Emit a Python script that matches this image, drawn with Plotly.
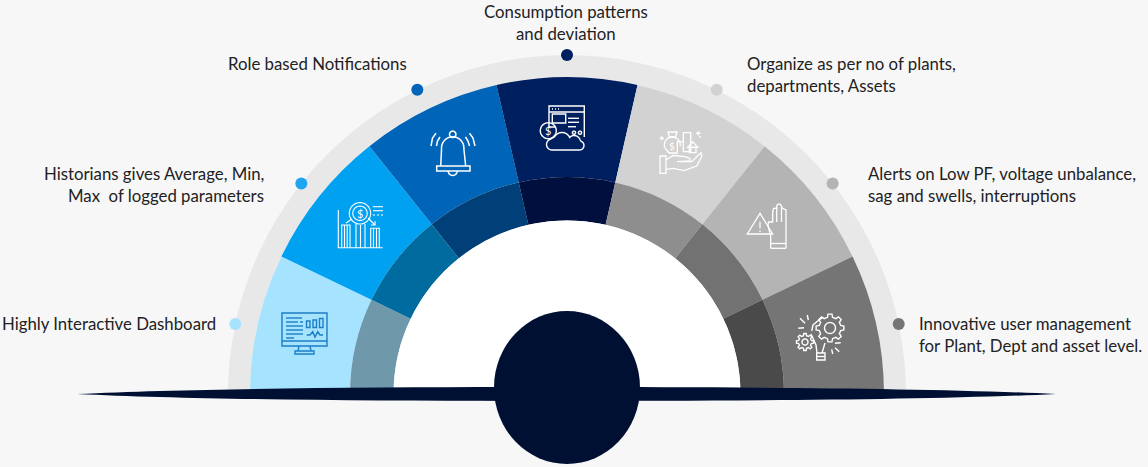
import math
import plotly.graph_objects as go

W, H = 1148, 467

# ---- data ----
categories = ["Highly Interactive Dashboard", "Historians", "Role based Notifications",
              "Consumption patterns", "Organize", "Alerts", "Innovative user management"]
sector_span = [25.714] * 7
sector_centers = [167.14, 141.43, 115.71, 90.0, 64.29, 38.57, 12.86]
outer_band = [100] * 7
outer_base = [217] * 7
inner_band = [43.5] * 7
inner_base = [173.5] * 7
outer_colors = ["#a6e3ff", "#00a1f1", "#0064b8", "#001f5f", "#d2d2d2", "#b4b4b4", "#757575"]
inner_colors = ["#6f98ab", "#006b9e", "#003f78", "#000f3d", "#8e8e8e", "#727272", "#4a4a4a"]
dot_theta = [168.1, 141.6, 116.2, 90.0, 63.8, 38.4, 11.9]
dot_r = [339] * 7
dot_colors = ["#a6e3ff", "#1fa5ee", "#0064b8", "#001f5f", "#d2d2d2", "#b4b4b4", "#757575"]

label_text = ["Consumption patterns", "and deviation", "Role based Notifications",
              "Organize as per no of plants,", "departments, Assets",
              "Historians gives Average, Min,", "Max\u00a0 of logged parameters",
              "Alerts on Low PF, voltage unbalance,", "sag and swells, interruptions",
              "Highly Interactive Dashboard",
              "Innovative user management", "for Plant, Dept and asset level."]
label_x = [566, 566, 226, 745, 745, 266, 266, 866, 866, 0, 917, 917]
label_y = [11.5, 33.5, 63.5, 63.5, 85.5, 173.5, 195.5, 173.5, 195.5, 323.5, 323.5, 345.5]
label_anchor = ["center", "center", "left", "left", "left", "right", "right", "left", "left", "left", "left", "left"]


def px(x, y):
    return f"{x / W:.5f},{1 - y / H:.5f}"


def poly(pts, close=False):
    s = "M" + " L".join(px(*p) for p in pts)
    return s + (" Z" if close else "")


def arc(cx, cy, r, a0, a1, n=24):
    return [(cx + r * math.cos(math.radians(a0 + (a1 - a0) * i / n)),
             cy - r * math.sin(math.radians(a0 + (a1 - a0) * i / n))) for i in range(n + 1)]


def rect(x0, y0, x1, y1):
    return poly([(x0, y0), (x1, y0), (x1, y1), (x0, y1)], True)


def circ(cx, cy, r):
    return poly(arc(cx, cy, r, 0, 360, 36), True)


def gear(cx, cy, r0, r1, teeth):
    pts = []
    step = 360 / teeth
    for i in range(teeth):
        a = i * step
        for da, r in [(-0.3, r0), (-0.18, r1), (0.18, r1), (0.3, r0)]:
            t = math.radians(a + da * step)
            pts.append((cx + r * math.cos(t), cy - r * math.sin(t)))
    return poly(pts, True)


shapes = []


def icon(paths, color="#ffffff", width=1.3):
    for p in paths:
        shapes.append(dict(type="path", path=p, xref="paper", yref="paper",
                           line=dict(color=color, width=width), layer="above"))


# monitor
icon([rect(282, 313, 327, 346), poly([(282, 341), (327, 341)]),
      poly([(299, 346), (298, 351)]), poly([(310, 346), (311, 351)]), rect(295, 351, 314, 354),
      poly([(286, 318), (302, 318)]), poly([(286, 322), (298, 322)]), poly([(300, 322), (303, 322)]),
      poly([(286, 326), (303, 326)]), poly([(286, 330), (303, 330)]), poly([(286, 334), (303, 334)]),
      poly([(286, 338), (294, 338)]),
      rect(306.5, 321, 310, 327.5), rect(313, 320, 316.5, 327.5), rect(319.5, 318.5, 323, 327.5),
      poly([(306.7, 335), (310, 335), (312.7, 331.7), (315, 337), (317.7, 331.7), (320, 335), (323, 335)])],
     color="#1c7ec4", width=1.4)
# chart with coin
icon([poly([(338.3, 210), (338.3, 247.7), (382.7, 247.7)]),
      poly([(341.7, 247.7), (341.7, 225), (350, 225), (350, 247.7)]),
      poly([(344.5, 247.7), (344.5, 225)]), poly([(347.2, 247.7), (347.2, 225)]),
      poly([(356, 247.7), (356, 224)]), poly([(365, 247.7), (365, 224)]), poly([(360.5, 247.7), (360.5, 225)]),
      poly([(370.7, 247.7), (370.7, 228.3), (379.3, 228.3), (379.3, 247.7)]),
      poly([(373.5, 247.7), (373.5, 228.3)]), poly([(376.5, 247.7), (376.5, 228.3)]),
      circ(360, 213.3, 10.7), circ(360, 213.3, 7.2),
      poly([(373, 206.7), (383, 206.7)]), poly([(373, 210.7), (383, 210.7)]),
      poly([(373, 215), (375, 215)]), poly([(377, 215), (379, 215)]), poly([(381, 215), (383, 215)]),
      poly([(346, 223), (352, 219)]), poly([(368, 218), (375, 225)]),
      poly([(375, 221), (375, 225), (371, 225)])], width=1.1)
# bell
icon([circ(452.7, 134.3, 3.2),
      poly([(440.7, 166), (441.5, 150)] + arc(452.7, 148, 11.2, 175, 5) + [(464, 150), (465.7, 166)]),
      rect(436.7, 166, 470, 171),
      poly(arc(452.7, 171, 4.5, 180, 360, 12)),
      poly([(436, 133.3), (432.5, 138), (431, 146)]), poly([(440, 137), (437.5, 141), (436.5, 146)]),
      poly([(469.5, 133.3), (473, 138), (475, 146)]), poly([(465.5, 137), (468, 141), (469.5, 146)])],
     width=1.5)
# web window, coin and cloud
icon([poly([(556, 127), (549, 127), (549, 106), (584.3, 106), (584.3, 137)]),
      poly([(549, 112), (584.3, 112)]),
      poly([(552, 109), (553, 109)]), poly([(555, 109), (556, 109)]), poly([(558, 109), (559, 109)]),
      rect(552.3, 114, 565.7, 123), poly([(568, 118.3), (579, 118.3)]), poly([(568, 122.3), (579, 122.3)]),
      poly([(568, 126.7), (576, 126.7)]), circ(574, 132.7, 1.6), circ(580, 132.7, 1.6),
      circ(548.3, 130.7, 8),
      poly(arc(552, 144.5, 5.5, 270, 110, 12) + arc(562, 141, 8.5, 150, 20, 14) + arc(574, 142, 6.5, 130, 20, 10)
           + arc(579.5, 145.5, 4.5, 70, -90, 10), True)],
     width=1.4)
# hand with assets
icon([rect(660, 156, 666, 173.3),
      poly([(666, 160), (673, 155.5), (685, 156.7), (690, 158.5), (690, 161), (677, 161.7)]),
      poly([(680, 161.7), (691.7, 161.7), (701, 152.7), (702, 156), (696.7, 166), (684, 170.7), (673.3, 168.3), (666, 169.3)]),
      poly([(668, 132), (677, 132), (675.5, 137), (669.5, 137)], True),
      poly(arc(672.3, 145, 8, 120, -10, 14)), poly(arc(672.3, 145, 8, 60, 200, 14)), poly([(665, 148), (669, 153), (678, 153)]),
      rect(683.3, 132.7, 690.7, 151.7), poly([(677.3, 152), (677.3, 141.7), (683.3, 141.7)]),
      poly([(692.7, 141.7), (687.7, 147.3), (697.7, 147.3)], True), rect(689.3, 147.3, 696, 152.7),
      poly([(661.7, 136), (661.7, 140.6)]), poly([(659.4, 138.3), (664, 138.3)]),
      poly([(698.3, 131), (698.3, 135.6)]), poly([(696, 133.3), (700.6, 133.3)]),
      poly([(699, 137), (701, 137)])])
# warning and hand
icon([poly([(760, 213.3), (747.3, 234), (772.7, 234)], True),
      poly([(760, 221.7), (760, 228.3)]), poly([(760, 230.5), (760, 232)]),
      poly([(770.7, 248.3), (770.7, 236), (768, 226), (768.5, 222), (772.7, 222), (772.7, 212), (773.5, 208.5),
            (777, 208)] + arc(779, 206.5, 2.4, 170, 10, 8) + [(782, 208), (786, 210), (786, 235), (786, 248.3)]),
      poly([(770.7, 248.3), (786, 248.3)]), poly([(770.7, 243.5), (786, 243.5)]),
      poly([(776.7, 208), (776.7, 222)]), poly([(781.5, 207), (781.5, 222)])])
# gears and bulb
icon([gear(830, 328, 11, 14, 8), circ(830, 328, 5.5), gear(805, 342, 6.5, 8.6, 8), circ(805, 342, 3),
      poly([(811.7, 331), (813, 325), (819, 320), (823, 317.5)]),
      poly([(811, 334), (816, 345), (817, 353)]), poly([(825, 343), (822, 353)]),
      rect(816.7, 353, 825, 360), poly([(816.7, 356.5), (825, 356.5)]),
      poly([(800, 318.3), (805, 323.3)]), poly([(807.3, 315), (808.3, 320)]), poly([(798.3, 328.3), (804, 327.7)]),
      poly([(835, 343.3), (840.7, 342.7)]), poly([(831.7, 349.3), (832.7, 354)]), poly([(835, 347.7), (839.3, 351.7)])],
     width=1.4)

# lens and hub
shapes.append(dict(type="path", xref="paper", yref="paper", layer="above", fillcolor="#001033",
                   line=dict(width=0),
                   path=f"M{px(77, 394)} C{px(200, 388)} {px(400, 387)} {px(567, 387)} "
                        f"C{px(734, 387)} {px(934, 388)} {px(1056, 394)} "
                        f"C{px(934, 400)} {px(734, 401)} {px(567, 401)} "
                        f"C{px(400, 401)} {px(200, 400)} {px(77, 394)} Z"))
hub = dict(type="circle", xref="paper", yref="paper", layer="above", fillcolor="#001033",
           line=dict(width=0), x0=494 / W, x1=640 / W, y0=1 - 464 / H, y1=1 - 311 / H)
shapes.insert(0, hub)

fig = go.Figure()
fig.add_trace(go.Barpolar(r=[22], base=[317], theta=[90], width=[180], marker=dict(color="#e8e8e8", line=dict(width=0)),
                          hoverinfo="skip", name="ring"))
fig.add_trace(go.Barpolar(r=outer_band, base=outer_base, theta=sector_centers, width=sector_span,
                          marker=dict(color=outer_colors, line=dict(width=0)), text=categories, name="outer"))
fig.add_trace(go.Barpolar(r=inner_band, base=inner_base, theta=sector_centers, width=sector_span,
                          marker=dict(color=inner_colors, line=dict(width=0)), text=categories, name="inner"))
fig.add_trace(go.Barpolar(r=[173.5], base=[0], theta=[90], width=[180], marker=dict(color="#ffffff", line=dict(width=0)),
                          hoverinfo="skip", name="core"))
fig.add_trace(go.Scatterpolar(r=dot_r, theta=dot_theta, mode="markers",
                              marker=dict(size=12, color=dot_colors, line=dict(width=0)), text=categories, name="dots"))

annotations = [dict(text=t, x=x / W, y=1 - y / H, xref="paper", yref="paper", xanchor=a, yanchor="middle",
                    showarrow=False, align=a, font=dict(family="Lato", size=16.8, color="#222222"))
               for t, x, y, a in zip(label_text, label_x, label_y, label_anchor)]
for cx, cy, size in [(360, 213.3, 11), (548.3, 130.7, 11), (672.3, 146, 10)]:
    annotations.append(dict(text="$", x=cx / W, y=1 - cy / H, xref="paper", yref="paper", showarrow=False,
                            xanchor="center", yanchor="middle",
                            font=dict(family="Lato", size=size, color="#ffffff")))

fig.update_layout(
    width=W, height=H, autosize=False, margin=dict(l=0, r=0, t=0, b=0, pad=0),
    paper_bgcolor="#f7f7f8", plot_bgcolor="#f7f7f8", showlegend=False,
    polar=dict(domain=dict(x=[217 / W, 917 / W], y=[1 - 394 / H, 1 - 44 / H]),
               sector=[0, 180], bgcolor="rgba(0,0,0,0)",
               barmode="overlay",
               radialaxis=dict(range=[0, 350], visible=False),
               angularaxis=dict(visible=False, direction="counterclockwise", rotation=0, thetaunit="degrees")),
    shapes=shapes, annotations=annotations,
)
fig.write_html("out.html", config=dict(displayModeBar=False), post_script="document.body.style.margin='0';")
